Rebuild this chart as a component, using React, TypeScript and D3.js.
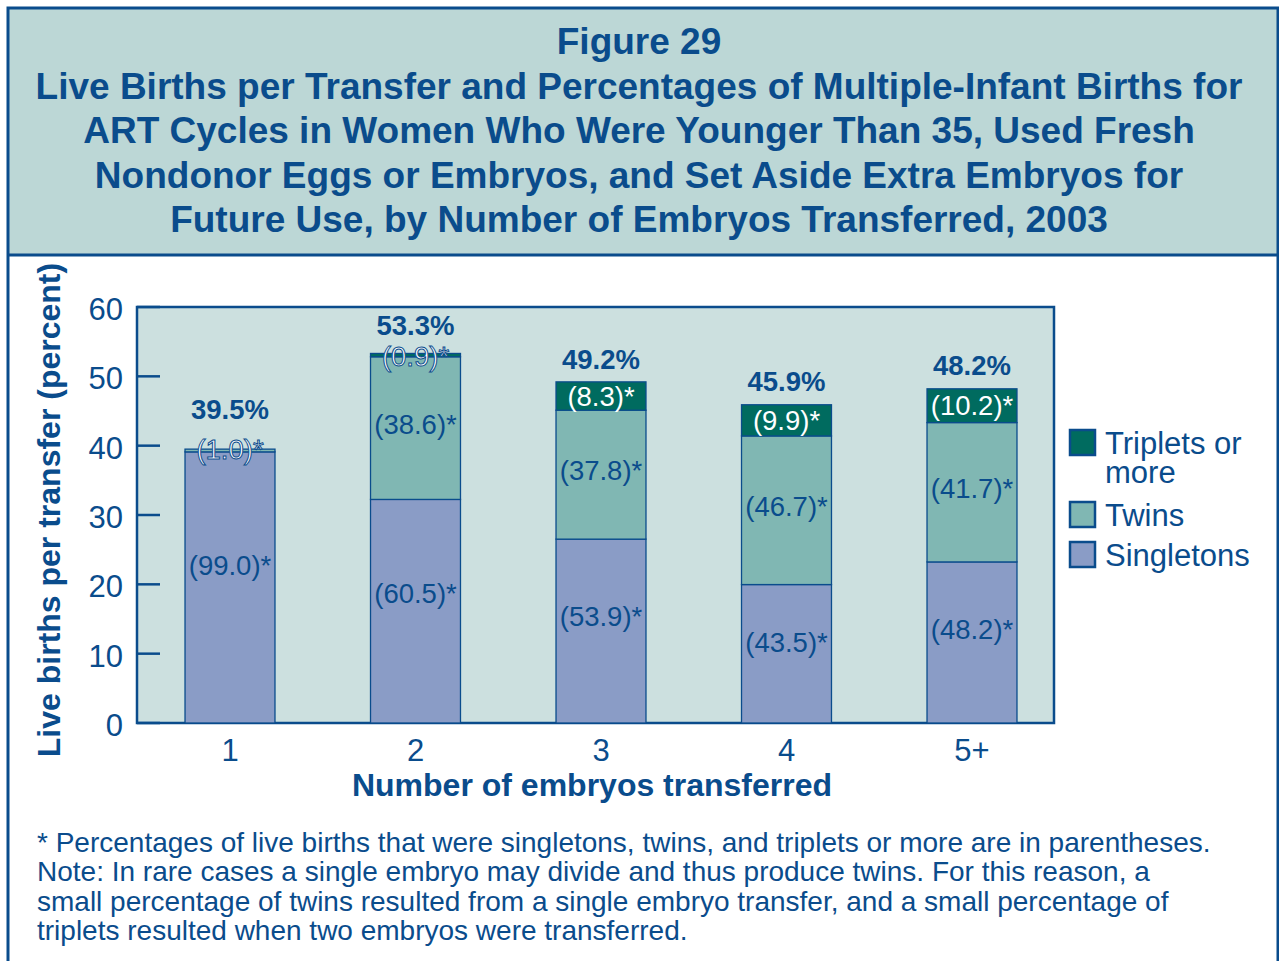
import React from 'react'
import * as d3 from 'd3'

const categories = ['1', '2', '3', '4', '5+']
const totals = [39.5, 53.3, 49.2, 45.9, 48.2]
const singletonPct = [99.0, 60.5, 53.9, 43.5, 48.2]
const twinPct = [1.0, 38.6, 37.8, 46.7, 41.7]
const tripletPct = [0, 0.9, 8.3, 9.9, 10.2]
const yTicks = [0, 10, 20, 30, 40, 50, 60]

const titleLines = [
  'Figure 29',
  'Live Births per Transfer and Percentages of Multiple-Infant Births for',
  'ART Cycles in Women Who Were Younger Than 35, Used Fresh',
  'Nondonor Eggs or Embryos, and Set Aside Extra Embryos for',
  'Future Use, by Number of Embryos Transferred, 2003',
]
const noteLines = [
  '* Percentages of live births that were singletons, twins, and triplets or more are in parentheses.',
  'Note: In rare cases a single embryo may divide and thus produce twins. For this reason, a',
  'small percentage of twins resulted from a single embryo transfer, and a small percentage of',
  'triplets resulted when two embryos were transferred.',
]

const BLUE = '#0a4c8c'
const colors = { single: '#8a9cc6', twin: '#80b7b3', triplet: '#006b5f' }
const FONT = '"Liberation Sans", Arial, Helvetica, sans-serif'

const App = () => {
  const W = 1279
  const H = 961
  const plot = { left: 137, right: 1054, top: 307, bottom: 723 }

  const y = d3.scaleLinear().domain([0, 60]).range([plot.bottom, plot.top])
  const x = d3.scaleBand()
    .domain(categories)
    .range([137.25, 1064.75])
    .paddingInner(0.515)
    .paddingOuter(0.2575)

  const rows = categories.map((c, i) => {
    const s = totals[i] * singletonPct[i] / 100
    const t = totals[i] * twinPct[i] / 100
    return { c, i, s, t, total: totals[i] }
  })

  const fmt = (v: number) => `(${v.toFixed(1)})*`
  const LBL = 27.5

  return (
    <div style={{ position: 'absolute', left: 0, top: 0 }}>
      <svg width={W} height={H} style={{ display: 'block', fontFamily: FONT }}>
        <rect x={0} y={0} width={W} height={H} fill="#fff" />
        {/* title box */}
        <rect x={8} y={8} width={1270} height={247} fill="#bcd7d6" />
        <path d={`M8,${H + 5} V8 H1278 V${H + 5}`} fill="none" stroke={BLUE} strokeWidth={3} />
        <line x1={8} x2={1278} y1={255} y2={255} stroke={BLUE} strokeWidth={3} />
        {titleLines.map((t, i) => (
          <text key={i} x={639} y={54 + i * 44.5} textAnchor="middle" fill={BLUE}
            fontWeight="bold" fontSize={37}>{t}</text>
        ))}

        {/* plot area */}
        <rect x={plot.left} y={plot.top} width={plot.right - plot.left} height={plot.bottom - plot.top}
          fill="#cce0df" stroke={BLUE} strokeWidth={2.5} />
        {yTicks.map(v => (
          <g key={v}>
            <line x1={plot.left} x2={plot.left + 23} y1={y(v)} y2={y(v)} stroke={BLUE} strokeWidth={2.5} />
            <text x={123} y={y(v) + 2} dy="0.35em" textAnchor="end" fill={BLUE} fontSize={31}>{v}</text>
          </g>
        ))}

        {rows.map(r => {
          const bx = x(r.c)!
          const bw = x.bandwidth()
          const cx = bx + bw / 2
          const top = y(r.total)
          const sTop = y(r.s)
          const tTop = y(r.s + r.t)
          const smallTop = tripletPct[r.i] < 2
          return (
            <g key={r.c}>
              <rect x={bx} y={sTop} width={bw} height={y(0) - sTop} fill={colors.single} stroke={BLUE} strokeWidth={1.3} />
              <rect x={bx} y={tTop} width={bw} height={sTop - tTop} fill={colors.twin} stroke={BLUE} strokeWidth={1.3} />
              {tripletPct[r.i] > 0 && (
                <rect x={bx} y={top} width={bw} height={tTop - top} fill={colors.triplet} stroke={BLUE} strokeWidth={1.3} />
              )}
              <text x={cx} y={y(r.s * 0.58)} dy="0.35em" textAnchor="middle" fill={BLUE} fontSize={LBL}>{fmt(singletonPct[r.i])}</text>
              {r.i === 0 ? (
                <text x={cx} y={tTop} dy="0.35em" textAnchor="middle" fill="#fff" stroke={BLUE} strokeWidth={1}
                  fontSize={LBL}>{fmt(twinPct[r.i])}</text>
              ) : (
                <text x={cx} y={(sTop + tTop) / 2 - 4} dy="0.35em" textAnchor="middle" fill={BLUE} fontSize={LBL}>{fmt(twinPct[r.i])}</text>
              )}
              {tripletPct[r.i] > 0 && (smallTop ? (
                <text x={cx} y={top + 3} dy="0.35em" textAnchor="middle" fill="#fff" stroke={BLUE} strokeWidth={1}
                  fontSize={LBL}>{fmt(tripletPct[r.i])}</text>
              ) : (
                <text x={cx} y={(top + tTop) / 2} dy="0.35em" textAnchor="middle" fill="#fff" fontSize={LBL}>{fmt(tripletPct[r.i])}</text>
              ))}
              <text x={cx} y={top - (r.i === 0 ? 40 : smallTop ? 28 : 23)} dy="0.35em" textAnchor="middle" fill={BLUE}
                fontWeight="bold" fontSize={LBL}>{`${r.total.toFixed(1)}%`}</text>
              <text x={cx} y={750} dy="0.35em" textAnchor="middle" fill={BLUE} fontSize={31}>{r.c}</text>
            </g>
          )
        })}

        <text x={592} y={796} textAnchor="middle" fill={BLUE} fontWeight="bold" fontSize={32}>
          Number of embryos transferred
        </text>
        <text transform={`translate(60,${(265 + 755) / 2}) rotate(-90)`} textAnchor="middle" fill={BLUE}
          fontWeight="bold" fontSize={32}>Live births per transfer (percent)</text>

        {/* legend */}
        {[
          { label: ['Triplets or', 'more'], color: colors.triplet, y: 430 },
          { label: ['Twins'], color: colors.twin, y: 502 },
          { label: ['Singletons'], color: colors.single, y: 542 },
        ].map(l => (
          <g key={l.label[0]}>
            <rect x={1070} y={l.y} width={25} height={25} fill={l.color} stroke={BLUE} strokeWidth={2.5} />
            {l.label.map((t, j) => (
              <text key={j} x={1105} y={l.y + 24 + j * 29} fill={BLUE} fontSize={31}>{t}</text>
            ))}
          </g>
        ))}

        {noteLines.map((t, i) => (
          <text key={i} x={37} y={852 + i * 29.3} fill={BLUE} fontSize={28}>{t}</text>
        ))}
      </svg>
    </div>
  )
}

export default App
